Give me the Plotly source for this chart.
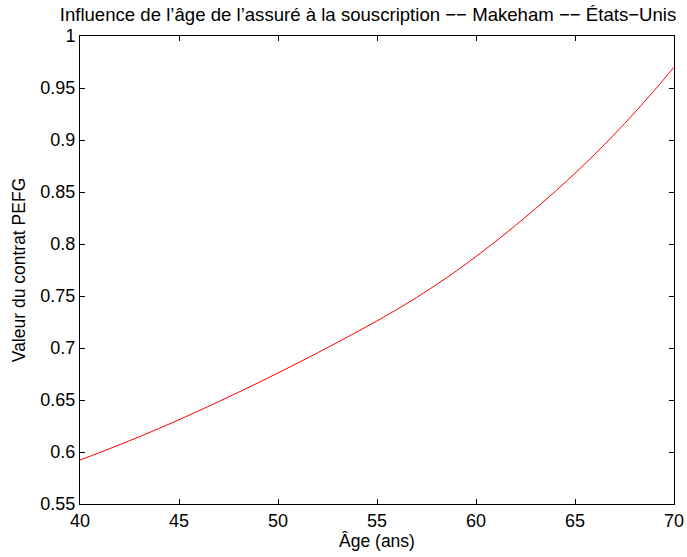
import plotly.graph_objects as go

ages = list(range(40, 71))
valeurs = [0.5923, 0.5995, 0.6070, 0.6147, 0.6227, 0.6310, 0.6396, 0.6484, 0.6574, 0.6666,
           0.6760, 0.6856, 0.6954, 0.7054, 0.7156, 0.7260, 0.7370, 0.7486, 0.7609, 0.7740,
           0.7880, 0.8026, 0.8179, 0.8339, 0.8506, 0.8680, 0.8864, 0.9057, 0.9261, 0.9475,
           0.9700]
x_ticks = [40, 45, 50, 55, 60, 65, 70]
y_ticks = [0.55, 0.6, 0.65, 0.7, 0.75, 0.8, 0.85, 0.9, 0.95, 1]
y_ticklabels = ["0.55", "0.6", "0.65", "0.7", "0.75", "0.8", "0.85", "0.9", "0.95", "1"]

FONT = "Liberation Sans, Arial, Helvetica, sans-serif"

fig = go.Figure()
fig.add_trace(go.Scatter(x=ages, y=valeurs, mode="lines",
                         line=dict(color="#ff0000", width=1), line_shape="spline",
                         showlegend=False))

axis_common = dict(showline=True, linecolor="black", linewidth=1, mirror="allticks",
                   ticks="inside", ticklen=5, tickcolor="black", tickwidth=1,
                   showgrid=False, zeroline=False, automargin=False,
                   tickfont=dict(family=FONT, size=18, color="black"))

fig.update_layout(
    width=687, height=557,
    margin=dict(l=80, r=13, t=36, b=53),
    paper_bgcolor="white", plot_bgcolor="white",
    title=dict(text="Influence de l’âge de l’assuré à la souscription −− Makeham −− États−Unis",
               x=368 / 687, xanchor="center", y=1 - 14 / 557, yanchor="middle",
               font=dict(family=FONT, size=18.6, color="black"), automargin=False),
    xaxis=dict(range=[40, 70], tickvals=x_ticks, ticktext=[str(v) for v in x_ticks],
               title=dict(text="Âge (ans)", font=dict(family=FONT, size=17.5, color="black"), standoff=2),
               **axis_common),
    yaxis=dict(range=[0.55, 1], tickvals=y_ticks, ticktext=y_ticklabels,
               title=dict(text="Valeur du contrat PEFG", font=dict(family=FONT, size=17.5, color="black"), standoff=10),
               **axis_common),
)

fig.write_html("out.html")
